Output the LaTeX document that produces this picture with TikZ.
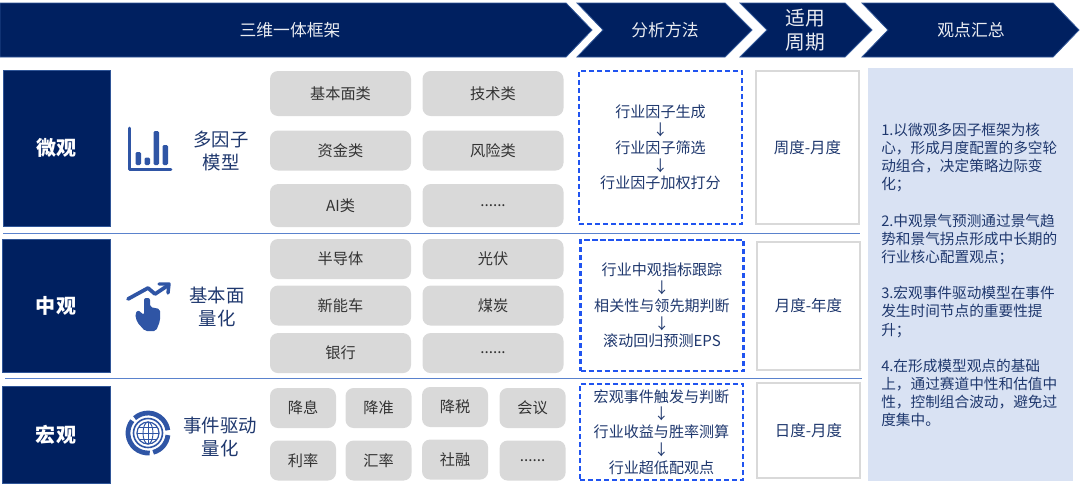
\documentclass[tikz,border=0pt]{standalone}
\usepackage{fontspec}
\setmainfont{Noto Sans CJK SC}
\usepackage{xcolor}
\usepackage{tikz}
\usetikzlibrary{positioning}
\definecolor{mynavy}{RGB}{0,32,96}
\definecolor{myedge}{RGB}{47,85,151}
\definecolor{myicon}{RGB}{47,85,165}
\definecolor{mygrey}{RGB}{217,217,217}
\definecolor{mydash}{RGB}{32,84,240}
\definecolor{myink}{RGB}{31,56,110}
\definecolor{mypale}{RGB}{217,226,243}
\definecolor{myrule}{RGB}{90,130,205}
\tikzset{
  banner/.style={fill=mynavy, draw=myedge, line width=0.6pt},
  bannertext/.style={text=white!92!mynavy, align=center, font=\fontsize{12.6}{18}\selectfont},
  levelbox/.style={rectangle, fill=mynavy, draw=myedge, line width=0.4pt, minimum width=80.25pt,
    text=white, font=\fontsize{15}{18}\selectfont\bfseries},
  modeltext/.style={text=myink, align=center, font=\fontsize{13.8}{17.25}\selectfont},
  greybox/.style={rectangle, fill=mygrey, rounded corners=6pt, minimum width=105.75pt,
    minimum height=30pt, inner sep=0pt, text=black!80, font=\fontsize{11.4}{13}\selectfont},
  smallbox/.style={greybox, minimum width=49.5pt},
  dashbox/.style={rectangle, draw=mydash, fill=white, dash pattern=on 4pt off 2pt, line width=1.6pt,
    minimum width=122.25pt, align=center, text=myink, inner sep=0pt, font=\fontsize{11.3}{13.4}\selectfont},
  periodbox/.style={rectangle, draw=mygrey, fill=white, line width=1.2pt, minimum width=77pt,
    text=myink, font=\fontsize{11.6}{13}\selectfont},
  icon/.style={fill=myicon, draw=none},
  iconline/.style={draw=myicon, line cap=round, line join=round},
  rule/.style={draw=myrule, line width=0.7pt}
}
\begin{document}
\begin{tikzpicture}[x=0.75pt, y=-0.75pt]
  \useasboundingbox (0,0) rectangle (1080,486);

  % Header chevrons
  \fill[banner] (0,3) -- (566,3) -- (592,30) -- (566,57) -- (0,57) -- cycle;
  \fill[banner] (577,3) -- (725,3) -- (752,30) -- (725,57) -- (577,57) -- (603,30) -- cycle;
  \fill[banner] (740,3) -- (845,3) -- (872,30) -- (845,57) -- (740,57) -- (767,30) -- cycle;
  \fill[banner] (862,3) -- (1053,3) -- (1079,30) -- (1053,57) -- (862,57) -- (888,30) -- cycle;
  \node[bannertext] (frame) at (290,30) {三维一体框架};
  \node[bannertext] (method) at (665,30) {分析方法};
  \node[bannertext, font=\fontsize{14.8}{18}\selectfont] (cycle) at (805,30) {适用\\周期};
  \node[bannertext] (view) at (971,30) {观点汇总};

  % Left column
  \node[levelbox, minimum height=117pt] (micro) at (56.5,148) {微观};
  \node[levelbox, minimum height=100pt, minimum width=81pt] (meso) at (56,305.5) {中观};
  \node[levelbox, minimum height=73pt, minimum width=81pt] (macro) at (56,434.5) {宏观};

  \node[modeltext] (factor) at (221,151) {多因子\\模型};
  \node[modeltext] (fund) at (217,306.5) {基本面\\量化};
  \node[modeltext] (event) at (220,436.5) {事件驱动\\量化};

  % Bar chart icon
  \draw[iconline, line width=2.2pt] (129.5,128) -- (129.5,169.5) -- (171,169.5);
  \fill[icon, rounded corners=1pt] (135.5,152) rectangle (141,165);
  \fill[icon, rounded corners=1pt] (144.5,157.5) rectangle (150,165);
  \fill[icon, rounded corners=1pt] (153.5,131) rectangle (159,165);
  \fill[icon, rounded corners=1pt] (162.5,145) rectangle (168,165);
  % Hand icon
  \draw[iconline, line width=2.8pt] (128,299) -- (148,288) -- (155,294) -- (167,286);
  \draw[iconline, line width=2.6pt] (159,284) -- (169,284) -- (168,293);
  \fill[icon, rounded corners=1.5pt] (144,298) -- (150,298) -- (150,307) -- (160,309)
    -- (160,321) -- (156,331) -- (145,331) -- (137,322) -- (135,314) -- (138,310) -- (144,315) -- cycle;
  % Globe icon
  \draw[iconline, line cap=butt, line width=3.6pt] (148,433) ++(85:20) arc[start angle=85, end angle=218, radius=20];
  \draw[iconline, line cap=butt, line width=3.6pt] (148,433) ++(228:20) arc[start angle=228, end angle=352, radius=20];
  \draw[iconline, line cap=butt, line width=3.6pt] (148,433) ++(6:20) arc[start angle=6, end angle=75, radius=20];
  \draw[iconline, line width=1.2pt] (148,433) circle[radius=14.5];
  \draw[iconline, line width=0.9pt] (148,433) circle[radius=11];
  \draw[iconline, line width=0.7pt] (148,433) ellipse[x radius=5, y radius=11];
  \draw[iconline, line width=0.7pt] (148,422) -- (148,444) (137,433) -- (159,433)
    (139,427) -- (157,427) (139,439) -- (157,439);

  % Factor groups
  \node[greybox, minimum height=33.75pt] (fa) at (340.5,93.5) {基本面类};
  \node[greybox, minimum height=33.75pt, right=8.25pt of fa] (fb) {技术类};
  \node[greybox, below=10.5pt of fa.south, anchor=north] (fc) {资金类};
  \node[greybox, right=8.25pt of fc] (fd) {风险类};
  \node[greybox, minimum height=32.25pt, below=9.75pt of fc.south, anchor=north] (fe) {AI类};
  \node[greybox, minimum height=32.25pt, right=8.25pt of fe] (ff) {......};

  \node[greybox] (ma) at (340.5,259) {半导体};
  \node[greybox, right=8.25pt of ma] (mb) {光伏};
  \node[greybox, below=4.5pt of ma.south, anchor=north] (mc) {新能车};
  \node[greybox, right=8.25pt of mc] (md) {煤炭};
  \node[greybox, below=5.25pt of mc.south, anchor=north] (me) {银行};
  \node[greybox, right=8.25pt of me] (mf) {......};

  \node[smallbox] (ea) at (303,408) {降息};
  \node[smallbox, right=6.75pt of ea] (eb) {降准};
  \node[smallbox, right=7.5pt of eb, yshift=0.75pt] (ec) {降税};
  \node[smallbox, right=8.25pt of ec, yshift=-0.75pt] (ed) {会议};
  \node[smallbox, below=9pt of ea.south, anchor=north] (ee) {利率};
  \node[smallbox, right=6.75pt of ee] (ef) {汇率};
  \node[smallbox, right=7.5pt of ef, yshift=0.75pt] (eg) {社融};
  \node[smallbox, right=8.25pt of eg, yshift=-0.75pt] (eh) {......};

  % Methods
  \node[dashbox, minimum height=114.75pt] (da) at (660.5,147.5) {行业因子生成\\↓\\行业因子筛选\\↓\\行业因子加权打分};
  \node[dashbox, minimum height=98.25pt] (db) at (662,305.5) {行业中观指标跟踪\\↓\\相关性与领先期判断\\↓\\滚动回归预测EPS};
  \node[dashbox, minimum height=72pt] (dc) at (661.5,432) {宏观事件触发与判断\\↓\\行业收益与胜率测算\\↓\\行业超低配观点};

  % Periods
  \node[periodbox, minimum height=114.75pt] (pa) at (807.5,147.5) {周度-月度};
  \node[periodbox, minimum height=96pt] (pb) at (808.5,306) {月度-年度};
  \node[periodbox, minimum height=71.25pt] (pc) at (808.5,430.5) {日度-月度};

  % Summary
  \node[rectangle, fill=mypale, minimum width=153.75pt, minimum height=309.75pt] (summary) at (970.5,274.5) {};
  \node[anchor=west, align=left, text=myink, inner sep=0pt, font=\fontsize{11}{13.6}\selectfont] (points) at (881,275) {1.以微观多因子框架为核\\心，形成月度配置的多空轮\\动组合，决定策略边际变\\化；\\[13.6pt]2.中观景气预测通过景气趋\\势和景气拐点形成中长期的\\行业核心配置观点；\\[13.6pt]3.宏观事件驱动模型在事件\\发生时间节点的重要性提\\升；\\[13.6pt]4.在形成模型观点的基础\\上，通过赛道中性和估值中\\性，控制组合波动，避免过\\度集中。};

  % Row separators
  \coordinate (ruleaw) at (3,233);
  \coordinate (ruleae) at (860,233);
  \coordinate (rulebw) at (5,378);
  \coordinate (rulebe) at (862,378);
  \draw[rule] (ruleaw) -- (ruleae);
  \draw[rule] (rulebw) -- (rulebe);
\end{tikzpicture}
\end{document}
